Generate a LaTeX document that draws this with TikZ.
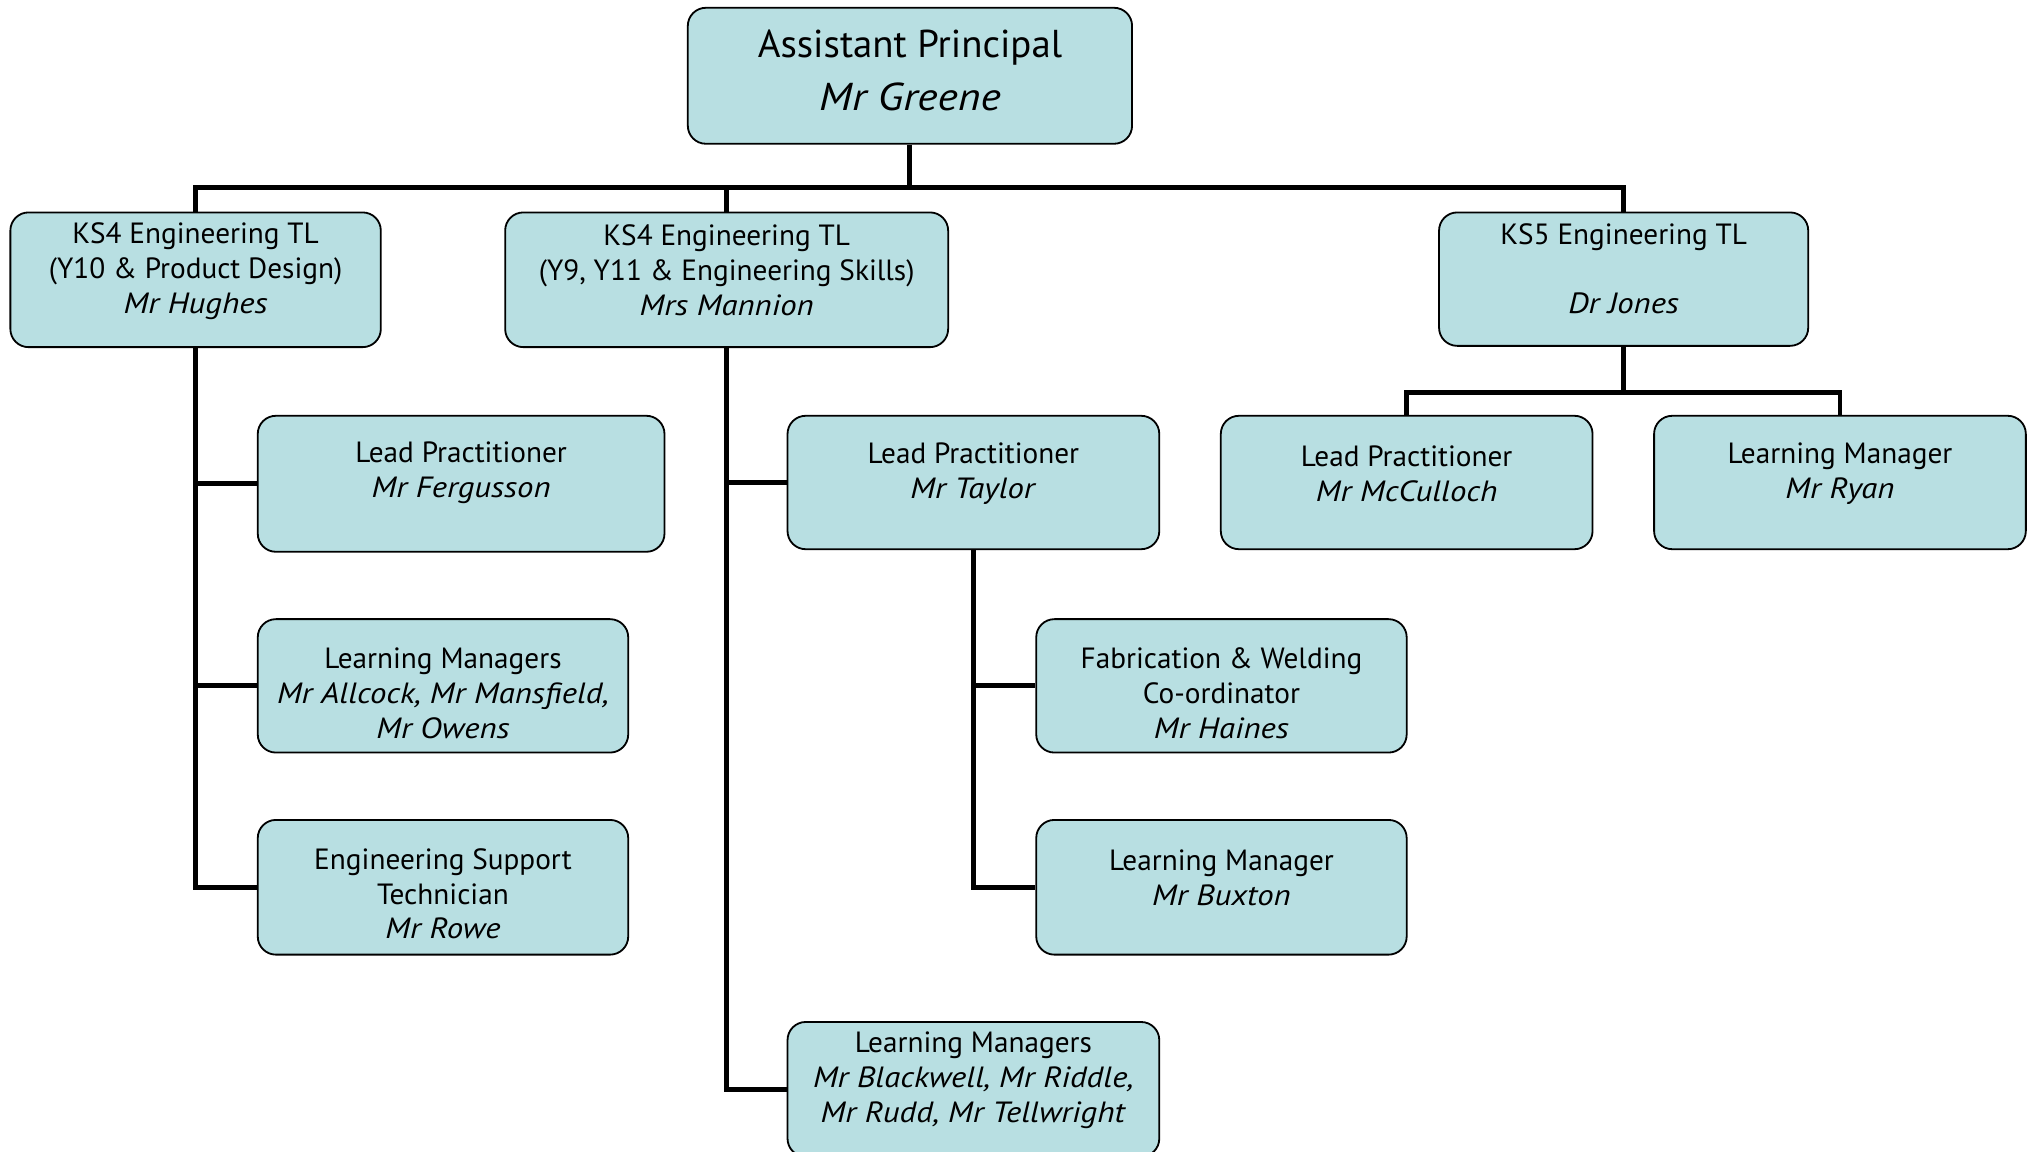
\documentclass[tikz,border=0pt]{standalone}
\usepackage{fontspec}
\setmainfont{PT Sans}[ItalicFeatures={FakeStretch=1.12}]
\definecolor{boxfill}{HTML}{B8DFE2}
\begin{document}
\begin{tikzpicture}[x=1pt,y=-1pt,
  orgbox/.style={draw=black, line width=1.4pt, fill=boxfill, rounded corners=14pt, inner sep=0pt},
  txt/.style={align=center, font=\fontsize{22.6}{27}\selectfont, inner sep=0pt},
  bigtxt/.style={align=center, font=\fontsize{30}{41}\selectfont, inner sep=0pt},
  conn/.style={line width=3.8pt}]
\useasboundingbox (0,0) rectangle (1568,889);
\clip (0,0) rectangle (1568,889);

% boxes
\node[orgbox, minimum width=343pt, minimum height=105pt] (ap) at (702.5,58.5) {};
\node[orgbox, minimum width=286pt, minimum height=104pt] (ks4l) at (151,216) {};
\node[orgbox, minimum width=342pt, minimum height=104pt] (ks4m) at (561,216) {};
\node[orgbox, minimum width=285pt, minimum height=103pt] (ks5) at (1253.5,215.5) {};
\node[orgbox, minimum width=314pt, minimum height=105pt] (ferg) at (356,373.5) {};
\node[orgbox, minimum width=286pt, minimum height=103pt] (allc) at (342,529.5) {};
\node[orgbox, minimum width=286pt, minimum height=104pt] (rowe) at (342,685) {};
\node[orgbox, minimum width=287pt, minimum height=103pt] (taylor) at (751.5,372.5) {};
\node[orgbox, minimum width=286pt, minimum height=103pt] (fab) at (943,529.5) {};
\node[orgbox, minimum width=286pt, minimum height=104pt] (bux) at (943,685) {};
\node[orgbox, minimum width=287pt, minimum height=104pt] (blk) at (751.5,841) {};
\node[orgbox, minimum width=287pt, minimum height=103pt] (mcc) at (1086,372.5) {};
\node[orgbox, minimum width=287pt, minimum height=103pt] (ryan) at (1420.5,372.5) {};

% texts
\node[bigtxt] (apt) at (702.5,54.5) {Assistant Principal\\\textit{Mr Greene}};
\node[txt] (ks4lt) at (151,209.5) {KS4 Engineering TL\\(Y10 \& Product Design)\\\textit{Mr Hughes}};
\node[txt] (ks4mt) at (561,209) {KS4 Engineering TL\\(Y9, Y11 \& Engineering Skills)\\\textit{Mrs Mannion}};
\node[txt] (ks5t) at (1253.5,207.5) {KS5 Engineering TL\\\strut\\\textit{Dr Jones}};
\node[txt] (fergt) at (356,365) {Lead Practitioner\\\textit{Mr Fergusson}};
\node[txt] (allct) at (342,535) {Learning Managers\\\textit{Mr Allcock, Mr Mansfield,}\\\textit{Mr Owens}};
\node[txt] (rowet) at (342,690) {Engineering Support\\Technician\\\textit{Mr Rowe}};
\node[txt] (taylort) at (751.5,366) {Lead Practitioner\\\textit{Mr Taylor}};
\node[txt] (fabt) at (943,535.5) {Fabrication \& Welding\\Co-ordinator\\\textit{Mr Haines}};
\node[txt] (buxt) at (943,678) {Learning Manager\\\textit{Mr Buxton}};
\node[txt] (blkt) at (751.5,834) {Learning Managers\\\textit{Mr Blackwell, Mr Riddle,}\\\textit{Mr Rudd, Mr Tellwright}};
\node[txt] (mcct) at (1086,366) {Lead Practitioner\\\textit{Mr McCulloch}};
\node[txt] (ryant) at (1420.5,366) {Learning Manager\\\textit{Mr Ryan}};

% connectors
\coordinate (bus) at (702.5,145);
\coordinate (bus5) at (1253.5,303);
\draw[conn] (ap.south) -- (bus);
\draw[conn] (ks4l.north) |- (bus) -| (ks5.north);
\draw[conn] (ks4m.north) -- (ks4m.north |- bus);
\draw[conn] (ks4l.south) |- (ferg.west);
\draw[conn] (ks4l.south) |- (allc.west);
\draw[conn] (ks4l.south) |- (rowe.west);
\draw[conn] (ks4m.south) |- (taylor.west);
\draw[conn] (ks4m.south) |- (blk.west);
\draw[conn] (taylor.south) |- (fab.west);
\draw[conn] (taylor.south) |- (bux.west);
\draw[conn] (ks5.south) -- (bus5);
\draw[conn] (mcc.north) |- (bus5) -| (ryan.north);
\end{tikzpicture}
\end{document}
